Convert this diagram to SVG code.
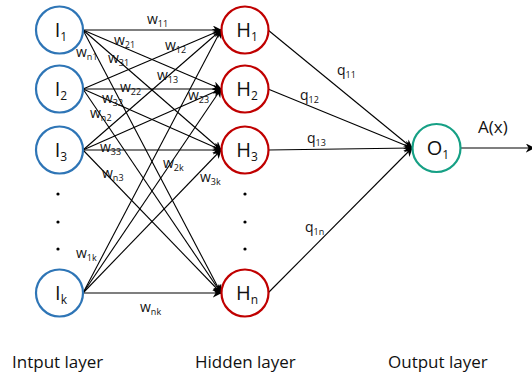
<svg xmlns="http://www.w3.org/2000/svg" width="532" height="377" viewBox="0 0 532 377">
<style>
.in{fill:#fff;stroke:#2e75b6;stroke-width:2.2}
.hid{fill:#fff;stroke:#c00000;stroke-width:2.2}
.out{fill:#fff;stroke:#16a085;stroke-width:2.2}
.e{stroke:#000;stroke-width:1.1;fill:none;marker-end:url(#ah)}
text{font-family:"Open Sans","Liberation Sans",sans-serif;fill:#111}
.n{font-size:20px;text-anchor:middle}
.ns{font-size:12px}
.w{font-size:14px}
.s{font-size:9px}
.lay{font-size:17px}
.dot{fill:#000}
</style>
<defs>
<marker id="ah" viewBox="0 0 10 10" refX="9" refY="5" markerWidth="9" markerHeight="9" markerUnits="userSpaceOnUse" orient="auto">
<path d="M0,0 L10,5 L0,10 L3,5 z" fill="#000"/>
</marker>
</defs>
<rect width="532" height="377" fill="#fff"/>
<g id="connectors">
<line class="e" x1="83" y1="30" x2="221" y2="30"/>
<line class="e" x1="83" y1="30" x2="221" y2="89"/>
<line class="e" x1="83" y1="30" x2="221" y2="150"/>
<line class="e" x1="83" y1="30" x2="221" y2="293"/>
<line class="e" x1="83" y1="89" x2="221" y2="30"/>
<line class="e" x1="83" y1="89" x2="221" y2="89"/>
<line class="e" x1="83" y1="89" x2="221" y2="150"/>
<line class="e" x1="83" y1="89" x2="221" y2="293"/>
<line class="e" x1="83" y1="150" x2="221" y2="30"/>
<line class="e" x1="83" y1="150" x2="221" y2="89"/>
<line class="e" x1="83" y1="150" x2="221" y2="150"/>
<line class="e" x1="83" y1="150" x2="221" y2="293"/>
<line class="e" x1="83" y1="293" x2="221" y2="30"/>
<line class="e" x1="83" y1="293" x2="221" y2="89"/>
<line class="e" x1="83" y1="293" x2="221" y2="150"/>
<line class="e" x1="83" y1="293" x2="221" y2="293"/>
<line class="e" x1="268" y1="30" x2="412" y2="148"/>
<line class="e" x1="268" y1="89" x2="412" y2="148"/>
<line class="e" x1="268" y1="150" x2="412" y2="148"/>
<line class="e" x1="268" y1="293" x2="412" y2="148"/>
<line class="e" x1="461" y1="148" x2="534" y2="148"/>
</g>
<g id="edge-labels">
<text class="w" x="147" y="24">w<tspan class="s" dy="3">11</tspan></text>
<text class="w" x="114" y="45">w<tspan class="s" dy="3">21</tspan></text>
<text class="w" x="76" y="57">w<tspan class="s" dy="3">n1</tspan></text>
<text class="w" x="108" y="63">w<tspan class="s" dy="3">31</tspan></text>
<text class="w" x="165" y="50">w<tspan class="s" dy="3">12</tspan></text>
<text class="w" x="157" y="80">w<tspan class="s" dy="3">13</tspan></text>
<text class="w" x="120" y="92">w<tspan class="s" dy="3">22</tspan></text>
<text class="w" x="188" y="100">w<tspan class="s" dy="3">23</tspan></text>
<text class="w" x="102" y="103">w<tspan class="s" dy="3">32</tspan></text>
<text class="w" x="90" y="118">w<tspan class="s" dy="3">n2</tspan></text>
<text class="w" x="100" y="152">w<tspan class="s" dy="3">33</tspan></text>
<text class="w" x="102" y="178">w<tspan class="s" dy="3">n3</tspan></text>
<text class="w" x="163" y="168">w<tspan class="s" dy="3">2k</tspan></text>
<text class="w" x="200" y="182">w<tspan class="s" dy="3">3k</tspan></text>
<text class="w" x="76" y="258">w<tspan class="s" dy="3">1k</tspan></text>
<text class="w" x="140" y="312">w<tspan class="s" dy="3">nk</tspan></text>
<text class="w" x="337" y="75">q<tspan class="s" dy="3">11</tspan></text>
<text class="w" x="300" y="100">q<tspan class="s" dy="3">12</tspan></text>
<text class="w" x="307" y="143">q<tspan class="s" dy="3">13</tspan></text>
<text class="w" x="305" y="232">q<tspan class="s" dy="3">1n</tspan></text>
<text x="478" y="133" style="font-size:17px">A(x)</text>
</g>
<g id="I1"><circle class="in" cx="59.5" cy="30" r="23.5"/><text class="n" x="61" y="37">I<tspan class="ns" dy="4">1</tspan></text></g>
<g id="I2"><circle class="in" cx="59.5" cy="89" r="23.5"/><text class="n" x="61" y="96">I<tspan class="ns" dy="4">2</tspan></text></g>
<g id="I3"><circle class="in" cx="59.5" cy="150" r="23.5"/><text class="n" x="61" y="157">I<tspan class="ns" dy="4">3</tspan></text></g>
<g id="Ik"><circle class="in" cx="59.5" cy="293" r="23.5"/><text class="n" x="61" y="300">I<tspan class="ns" dy="4">k</tspan></text></g>
<g id="input-dots"><circle class="dot" cx="58" cy="194" r="1.6"/><circle class="dot" cx="58" cy="222" r="1.6"/><circle class="dot" cx="58" cy="249" r="1.6"/></g>
<g id="H1"><circle class="hid" cx="245" cy="30" r="23.5"/><text class="n" x="247" y="37">H<tspan class="ns" dy="4">1</tspan></text></g>
<g id="H2"><circle class="hid" cx="245" cy="89" r="23.5"/><text class="n" x="247" y="96">H<tspan class="ns" dy="4">2</tspan></text></g>
<g id="H3"><circle class="hid" cx="245" cy="150" r="23.5"/><text class="n" x="247" y="157">H<tspan class="ns" dy="4">3</tspan></text></g>
<g id="Hn"><circle class="hid" cx="245" cy="293" r="23.5"/><text class="n" x="247" y="300">H<tspan class="ns" dy="4">n</tspan></text></g>
<g id="hidden-dots"><circle class="dot" cx="245" cy="194" r="1.6"/><circle class="dot" cx="245" cy="222" r="1.6"/><circle class="dot" cx="245" cy="249" r="1.6"/></g>
<g id="O1"><circle class="out" cx="436.5" cy="148" r="24"/><text class="n" x="438" y="155">O<tspan class="ns" dy="4">1</tspan></text></g>
<g id="layer-labels">
<text class="lay" x="12" y="368">Intput layer</text>
<text class="lay" x="195" y="368">Hidden layer</text>
<text class="lay" x="388" y="368">Output layer</text>
</g>
</svg>
